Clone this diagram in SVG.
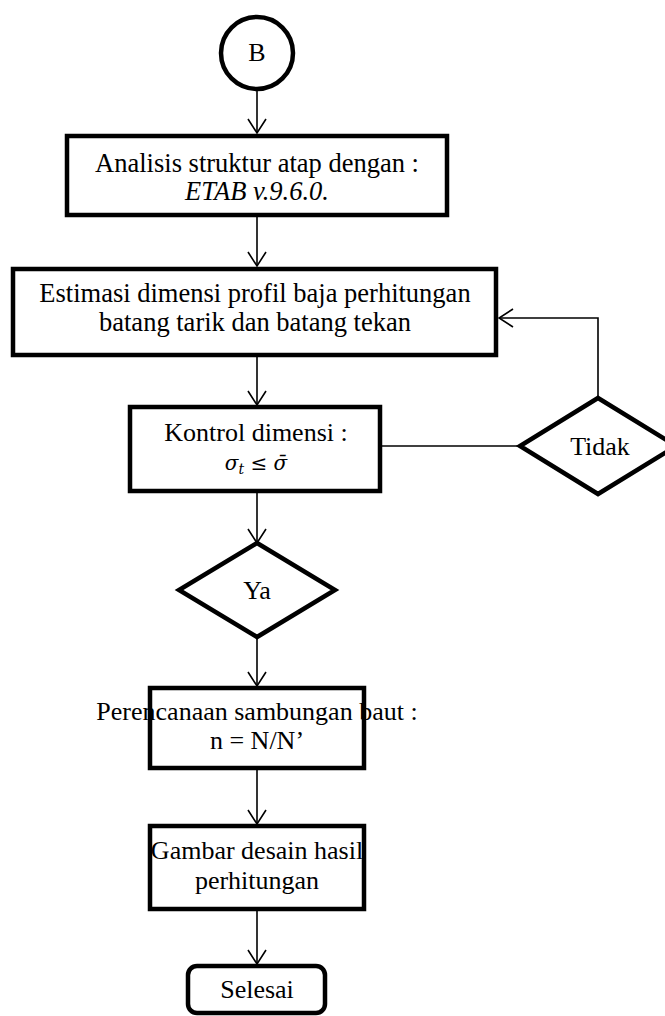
<svg xmlns="http://www.w3.org/2000/svg" width="665" height="1016" viewBox="0 0 665 1016">
  <defs>
    <marker id="arrow" viewBox="0 0 16 20" refX="15" refY="10" markerWidth="16" markerHeight="20" markerUnits="userSpaceOnUse" orient="auto">
      <path d="M1,1 L15,10 L1,19" fill="none" stroke="#000" stroke-width="1.6"/>
    </marker>
  </defs>
  <style>
    .box { fill: #fff; stroke: #000; stroke-width: 4.5; }
    .conn { fill: none; stroke: #000; stroke-width: 1.6; }
    .t { font-family: "Liberation Serif", "Times New Roman", serif; font-size: 26px; fill: #000; text-anchor: middle; }
    .lg { font-size: 26.5px; }
    .it { font-style: italic; }
    .math { font-family: "DejaVu Serif", "Liberation Serif", serif; font-size: 20px; font-style: italic; fill: #000; text-anchor: middle; }
  </style>
  <rect width="665" height="1016" fill="#fff"/>

  <!-- connectors -->
  <g id="connectors">
    <line class="conn" x1="257" y1="90" x2="257" y2="133" marker-end="url(#arrow)"/>
    <line class="conn" x1="257" y1="216" x2="257" y2="266" marker-end="url(#arrow)"/>
    <line class="conn" x1="257" y1="355" x2="257" y2="405" marker-end="url(#arrow)"/>
    <line class="conn" x1="257" y1="491" x2="257" y2="543" marker-end="url(#arrow)"/>
    <line class="conn" x1="257" y1="637" x2="257" y2="686" marker-end="url(#arrow)"/>
    <line class="conn" x1="257" y1="768" x2="257" y2="824" marker-end="url(#arrow)"/>
    <line class="conn" x1="257" y1="909" x2="257" y2="964" marker-end="url(#arrow)"/>
    <!-- "Tidak" branch back to the estimate step -->
    <line class="conn" x1="381" y1="446" x2="520" y2="446"/>
    <polyline class="conn" points="598,398 598,318 499,318" marker-end="url(#arrow)"/>
  </g>

  <g id="start-b">
    <circle cx="257" cy="53" r="36" fill="#fff" stroke="#000" stroke-width="4.5"/>
    <text class="t" x="257" y="61" font-size="25">B</text>
  </g>

  <g id="analisis">
    <rect class="box" x="67" y="136" width="380" height="79"/>
    <text class="t lg" x="257" y="172">Analisis struktur atap dengan :</text>
    <text class="t lg it" x="257" y="200">ETAB v.9.6.0.</text>
  </g>

  <g id="estimasi">
    <rect class="box" x="13" y="269" width="483" height="86"/>
    <text class="t lg" x="255" y="302">Estimasi dimensi profil baja perhitungan</text>
    <text class="t lg" x="255" y="331">batang tarik dan batang tekan</text>
  </g>

  <g id="kontrol">
    <rect class="box" x="130" y="407" width="250" height="84"/>
    <text class="t" x="256" y="441">Kontrol dimensi :</text>
    <text class="math" x="256" y="470">σ<tspan font-size="14" dy="4">t</tspan><tspan dy="-4" font-style="normal"> ≤ </tspan>σ̄</text>
  </g>

  <g id="tidak">
    <polygon points="598,398 676,446 598,494 520,446" fill="#fff" stroke="#000" stroke-width="4.5"/>
    <text class="t" x="600" y="455">Tidak</text>
  </g>

  <g id="ya">
    <polygon points="257,543 335,590 257,637 179,590" fill="#fff" stroke="#000" stroke-width="4.5"/>
    <text class="t" x="257" y="599">Ya</text>
  </g>

  <g id="sambungan">
    <rect class="box" x="150" y="688" width="214" height="80"/>
    <text class="t" x="257" y="720">Perencanaan sambungan baut :</text>
    <text class="t" x="257" y="749">n = N/N’</text>
  </g>

  <g id="gambar">
    <rect class="box" x="150" y="826" width="214" height="83"/>
    <text class="t" x="257" y="859">Gambar desain hasil</text>
    <text class="t" x="257" y="889">perhitungan</text>
  </g>

  <g id="selesai">
    <rect class="box" x="188" y="966" width="137" height="47" rx="9" ry="9"/>
    <text class="t" x="257" y="998">Selesai</text>
  </g>
</svg>
